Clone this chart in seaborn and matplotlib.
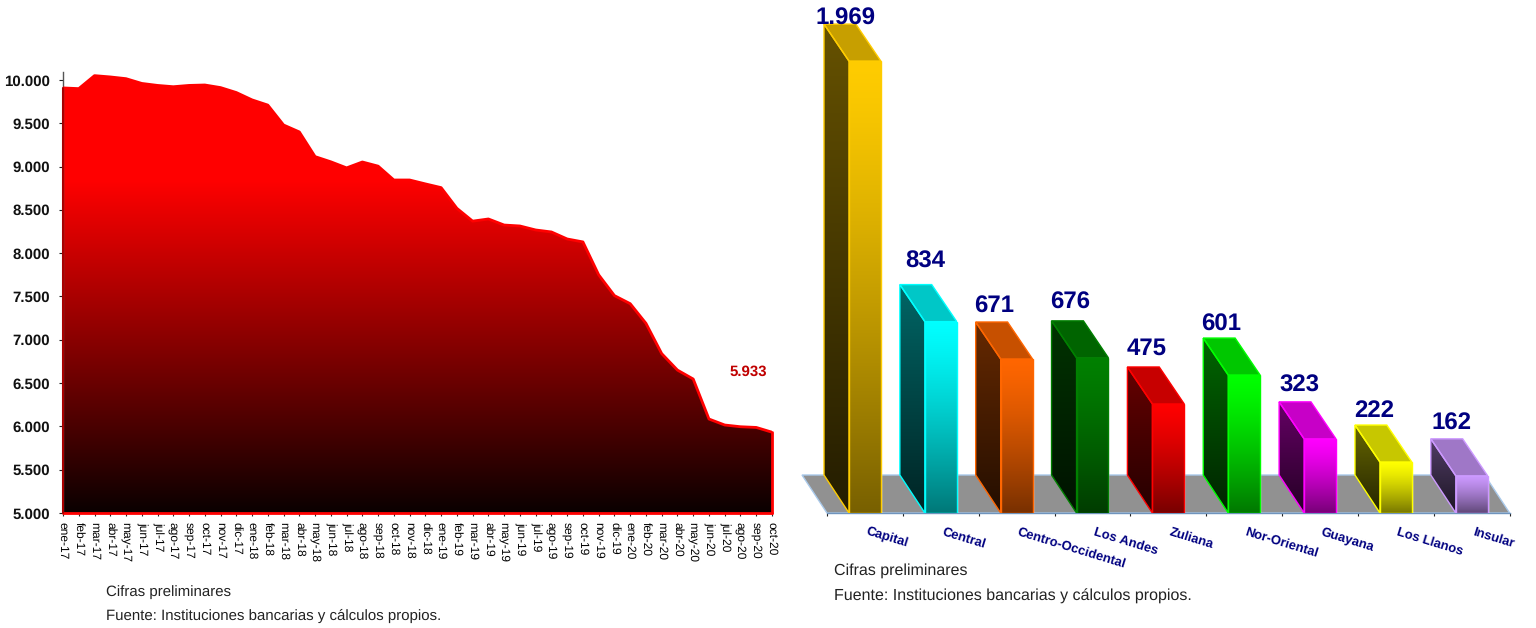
import numpy as np
import pandas as pd
import seaborn as sns
from matplotlib import pyplot as plt
from matplotlib.patches import Polygon
from matplotlib.transforms import ScaledTranslation

W, H = 1536, 628

meses = ["ene-17", "feb-17", "mar-17", "abr-17", "may-17", "jun-17", "jul-17", "ago-17", "sep-17", "oct-17", "nov-17", "dic-17",
         "ene-18", "feb-18", "mar-18", "abr-18", "may-18", "jun-18", "jul-18", "ago-18", "sep-18", "oct-18", "nov-18", "dic-18",
         "ene-19", "feb-19", "mar-19", "abr-19", "may-19", "jun-19", "jul-19", "ago-19", "sep-19", "oct-19", "nov-19", "dic-19",
         "ene-20", "feb-20", "mar-20", "abr-20", "may-20", "jun-20", "jul-20", "ago-20", "sep-20", "oct-20"]
serie = [9908, 9900, 10050, 10035, 10015, 9960, 9937, 9922, 9937, 9942, 9912, 9855,
         9770, 9710, 9480, 9400, 9115, 9055, 8985, 9053, 9005, 8845, 8845, 8800,
         8757, 8518, 8370, 8395, 8325, 8314, 8268, 8245, 8164, 8130, 7750, 7510,
         7417, 7190, 6840, 6650, 6547, 6085, 6016, 5996, 5988, 5933]
yticks_izq = [5000, 5500, 6000, 6500, 7000, 7500, 8000, 8500, 9000, 9500, 10000]

regiones = ["Capital", "Central", "Centro-Occidental", "Los Andes", "Zuliana",
            "Nor-Oriental", "Guayana", "Los Llanos", "Insular"]
valores = [1969, 834, 671, 676, 475, 601, 323, 222, 162]
colores = ["#ffcc00", "#00ffff", "#ff6600", "#008000", "#ff0000",
           "#00ff00", "#ff00ff", "#ffff00", "#cc99ff"]

nota1 = "Cifras preliminares"
nota2 = "Fuente: Instituciones bancarias y cálculos propios."

sns.set_theme(style="white")
plt.rcParams["font.family"] = ["Liberation Sans", "DejaVu Sans"]
plt.rcParams["text.hinting"] = "none"
plt.rcParams["text.hinting_factor"] = 1


def px_axes(fig, left, top, right, bottom):
    return fig.add_axes([left / W, 1 - bottom / H, (right - left) / W, (bottom - top) / H])


def miles(v):
    return f"{v:,}".replace(",", ".")


def gradient_face(ax, verts, rgb, f_top, f_bottom, power=1.0, z=3):
    verts = np.array(verts)
    x0, x1 = verts[:, 0].min(), verts[:, 0].max()
    y0, y1 = verts[:, 1].min(), verts[:, 1].max()
    t = np.linspace(0, 1, 256) ** power
    f = f_top + (f_bottom - f_top) * t
    img = np.outer(f, np.array(rgb)).reshape(256, 1, 3)
    im = ax.imshow(img, extent=[x0, x1, y0, y1], origin="upper", aspect="auto",
                   interpolation="bilinear", zorder=z)
    im.set_clip_path(Polygon(verts, transform=ax.transData))
    return im


fig = plt.figure(figsize=(W / 100, H / 100), dpi=100, facecolor="white")

# ---- left chart
ax = px_axes(fig, 63, 72, 772, 513)
pos = np.arange(len(meses))
base = 5000
ytop = 10092

area = ax.fill_between(pos, serie, base, color="none", lw=0)
niveles = np.linspace(ytop, base, 512)
rojo = np.clip((niveles - base) / 3845, 0, 1)
grad = np.zeros((512, 1, 3))
grad[:, 0, 0] = rojo * 0.96 + 0.04
im = ax.imshow(grad, extent=[pos[0], pos[-1], base, ytop], origin="upper", aspect="auto",
               interpolation="bilinear", zorder=2)
im.set_clip_path(area.get_paths()[0], transform=ax.transData)

sns.lineplot(x=pos, y=serie, color="#ff0000", lw=2, ax=ax, zorder=4, sort=False, errorbar=None)
ax.plot([pos[-1], pos[-1]], [serie[-1], base], color="#ff0000", lw=2, zorder=4, clip_on=False)
ax.plot([pos[0], pos[-1]], [base, base], color="#ff0000", lw=2, zorder=4, clip_on=False)
ax.plot([pos[0], pos[0]], [base, serie[0]], color="#a80000", lw=1.5, zorder=6, clip_on=False)

ax.set_xlim(pos[0], pos[-1])
ax.set_ylim(base, ytop)
ax.set_xticks(pos)
ax.set_xticklabels(meses, rotation=270, fontsize=8.3, color="black")
ax.set_yticks(yticks_izq)
ax.set_yticklabels([miles(v) for v in yticks_izq], fontsize=11, fontweight="bold", color="#111111")
ax.tick_params(axis="x", length=2.2, width=0.8, pad=4, color="#222222", bottom=True)
ax.tick_params(axis="y", length=2.9, width=0.8, pad=6.5, color="#222222", left=True)
for lado in ["top", "right"]:
    ax.spines[lado].set_visible(False)
ax.spines["left"].set_color("#555555")
ax.spines["left"].set_linewidth(1)
ax.spines["bottom"].set_color("#222222")
ax.patch.set_alpha(0)

ax.annotate(miles(serie[-1]), xy=(pos[-1], serie[-1]), xytext=(-24, 60), textcoords="offset pixels",
            ha="center", va="center", fontsize=11, fontweight="bold", color="#c00000")

# ---- right chart
PX_CAT = 75.85
PX_VAL = 0.2295
ax2 = px_axes(fig, 827 - 0.4 * PX_CAT, 0, 827 + 9 * PX_CAT, 513)
ax2.patch.set_alpha(0)
DX = -25 / PX_CAT
DY = 38 / PX_VAL
DY_TOP = 37 / PX_VAL

df = pd.DataFrame({"region": regiones, "valor": valores})
sns.barplot(data=df, x="region", y="valor", hue="region", palette=colores, legend=False,
            width=0.42, saturation=1, ax=ax2, zorder=3)

ax2.add_patch(Polygon([(-0.5, 0), (8.5, 0), (8.5 + DX, DY), (-0.5 + DX, DY)], closed=True,
                      facecolor="#919191", edgecolor="#a9c9ea", lw=1, zorder=1))

for barra, color in zip(ax2.patches[:len(regiones)], colores):
    x0, w, h = barra.get_x(), barra.get_width(), barra.get_height()
    rgb = np.array(plt.matplotlib.colors.to_rgb(color))
    front = [(x0, 0), (x0 + w, 0), (x0 + w, h), (x0, h)]
    side = [(x0, 0), (x0, h), (x0 + DX, h + DY_TOP), (x0 + DX, DY)]
    top = [(x0, h), (x0 + w, h), (x0 + w + DX, h + DY_TOP), (x0 + DX, h + DY_TOP)]
    gradient_face(ax2, front, rgb, 1.0, 0.47, power=1.3, z=4)
    gradient_face(ax2, side, rgb, 0.40, 0.14, z=4)
    for verts, fc in [(top, rgb * 0.78), (side, "none"), (front, "none")]:
        ax2.add_patch(Polygon(verts, closed=True, facecolor=fc, edgecolor=color, lw=1, zorder=5))

# offsets of the value labels from the bar, in pixels
label_dx = [-19, -16, -22, -22, -22, -23, -21, -22, -20]
label_dy = [6, 23, 15, 18, 18, 14, 16, 14, 15]
for i, v in enumerate(valores):
    ax2.text(i + label_dx[i] / PX_CAT, v + DY_TOP + label_dy[i] / PX_VAL, miles(v), ha="center", va="center",
             fontsize=17, fontweight="bold", color="#000080", zorder=7)

ax2.set_xlim(-0.9, 8.5)
ax2.set_ylim(0, 513 / PX_VAL)
ax2.set_yticks([])
ax2.set_xlabel("")
ax2.set_ylabel("")
ax2.set_xticks(range(len(regiones)))
ax2.set_xticklabels(regiones, rotation=-17, ha="left", rotation_mode="anchor",
                    fontsize=9.5, fontweight="bold", color="#000080")
ax2.set_xticks(np.arange(-0.5, 9), minor=True)
ax2.tick_params(axis="x", which="major", length=0, pad=9)
ax2.tick_params(axis="x", which="minor", length=2.2, width=0.8, color="#222222", bottom=True)
desplaza = ScaledTranslation(3 / 100, 0, fig.dpi_scale_trans)
for etiqueta in ax2.get_xticklabels():
    etiqueta.set_transform(etiqueta.get_transform() + desplaza)
for lado in ["top", "right", "left"]:
    ax2.spines[lado].set_visible(False)
ax2.spines["bottom"].set_bounds(-0.5, 8.5)
ax2.spines["bottom"].set_color("#6f94bd")
ax2.spines["bottom"].set_linewidth(1)
ax2.spines["bottom"].set_zorder(2)

# ---- notes
for x, y, txt, size in [(106, 592, nota1, 11.1), (106, 616, nota2, 11.1),
                        (834, 571, nota1, 11.7), (834, 596, nota2, 11.7)]:
    fig.text(x / W, 1 - y / H, txt, ha="left", va="center", fontsize=size, color="#222222")

fig.savefig("out.png", dpi=100)
